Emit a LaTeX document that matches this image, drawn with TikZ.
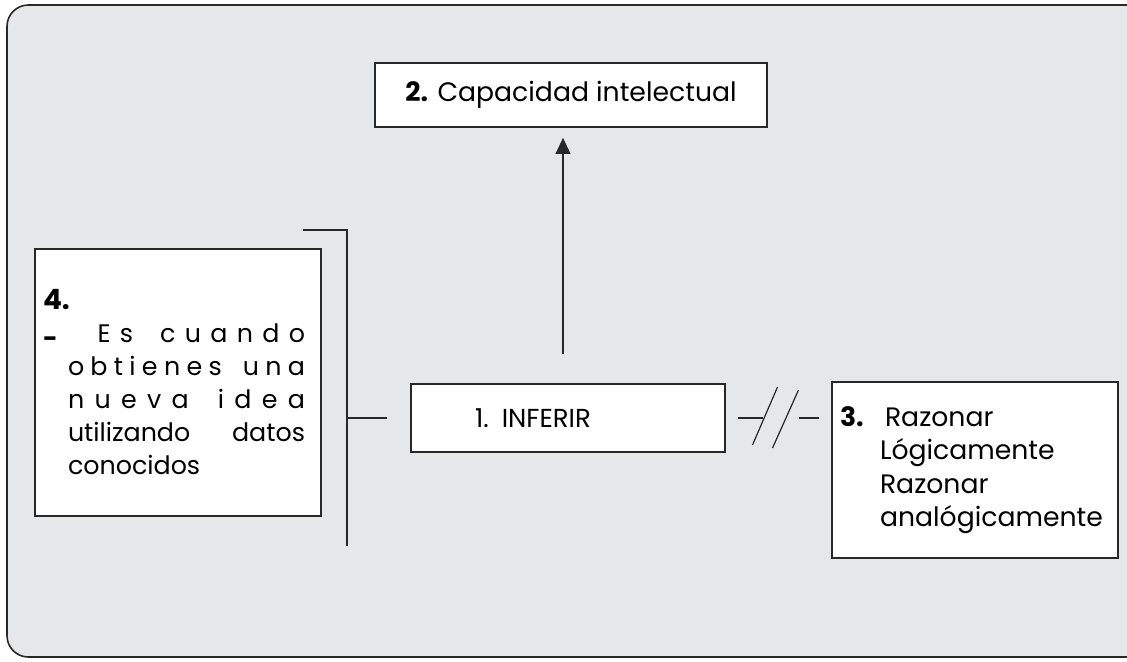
\documentclass[tikz,border=0pt]{standalone}
\usepackage{fontspec}
\setmainfont{Poppins}
\usepackage{xcolor}
\definecolor{panelgray}{RGB}{230,231,232}
\definecolor{linegray}{RGB}{40,40,40}
\usetikzlibrary{positioning,arrows.meta,calc}
\newlength{\pxu}\setlength{\pxu}{0.75pt}
\newcommand{\gapline}[2]{\leavevmode\hbox to 262\pxu{\hskip#1\pxu #2}}
\tikzset{
  conbox/.style={rectangle,draw=linegray,fill=white,line width=1.2pt,inner sep=0pt},
  conline/.style={draw=linegray,line width=1.2pt},
  arr/.style={-{Triangle[length=12pt,width=11pt]},draw=linegray,line width=1.2pt},
}
\begin{document}
\begin{tikzpicture}[x=0.75pt,y=-0.75pt]
  \useasboundingbox (0,0) rectangle (1127,661);
  \clip (0,0) rectangle (1127,661);
  % --- fondo ---
  \draw[conline,fill=panelgray,rounded corners=16pt] (7,5) rectangle (1160,657);
  % --- cajas ---
  \node[conbox,minimum width=392\pxu,minimum height=64\pxu,font=\fontsize{20}{24}\selectfont] (capacidad) at (571,95) {\textbf{2.} Capacidad intelectual};
  \node[conbox,text width=186\pxu,inner xsep=64\pxu,minimum height=68\pxu,align=left,font=\fontsize{19.5}{22}\selectfont] (inferir) at (568,418) {1. INFERIR};
  \node[conbox,text width=270\pxu,inner xsep=8\pxu,minimum height=176\pxu,align=left,font=\fontsize{20}{25}\selectfont] (razonar) at (975,470) {\makebox[45\pxu][l]{\textbf{3.}}Razonar\\\hspace*{40\pxu}Lógicamente\\\hspace*{40\pxu}Razonar\\\hspace*{40\pxu}analógicamente};
  \node[conbox,text width=270\pxu,inner xsep=8\pxu,minimum height=267\pxu,align=left,font=\fontsize{19}{24.75}\selectfont] (definicion) at (178,382.5) {{\fontsize{21}{28}\selectfont\textbf{4.}}\\
    \gapline{0}{\raisebox{-5\pxu}{\textbf{-}}\hskip40\pxu E\hfil s\hfil\ \hfil c\hfil u\hfil a\hfil n\hfil d\hfil o}\\
    \gapline{25}{o\hfil b\hfil t\hfil i\hfil e\hfil n\hfil e\hfil s\hfil\ \hfil u\hfil n\hfil a}\\
    \gapline{25}{n\hfil u\hfil e\hfil v\hfil a\hfil\ \hfil i\hfil d\hfil e\hfil a}\\
    \gapline{25}{utilizando\hfil\ datos}\\
    \gapline{25}{conocidos\hfil}};
  % --- conectores ---
  \draw[arr,shorten <=29\pxu,shorten >=10\pxu] ([xshift=-5\pxu]inferir.north) -- ([xshift=-5\pxu]inferir.north |- capacidad.south);
  \coordinate (brtop) at ($(definicion.north east)+(25,-18)$);
  \coordinate (brbot) at ($(definicion.south east)+(25,29)$);
  \draw[conline] ($(brtop)+(-44,0)$) -- (brtop) -- (brbot);
  \draw[conline,shorten <=23\pxu] (inferir.west) -- (inferir.west -| brtop);
  \coordinate (brk) at ($(inferir.east)!0.5!(razonar.west |- inferir.east)$);
  \draw[conline,shorten <=12\pxu] (inferir.east) -- ($(brk)+(-16,0)$);
  \draw[conline,shorten <=12\pxu] (razonar.west |- inferir.east) -- ($(brk)+(20,0)$);
  \draw[conline,line width=0.9pt] ($(brk)+(-26,27)$) -- ($(brk)+(-1,-31)$);
  \draw[conline,line width=0.9pt] ($(brk)+(-6,30)$) -- ($(brk)+(20,-28)$);
\end{tikzpicture}
\end{document}
